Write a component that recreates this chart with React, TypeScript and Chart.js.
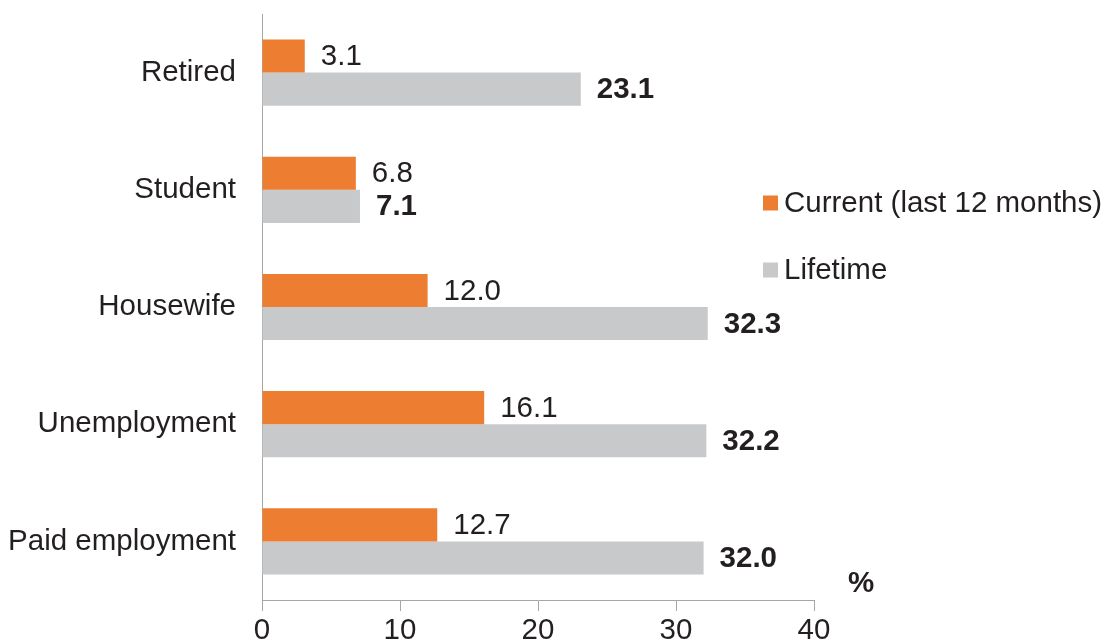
import React, { useEffect, useRef } from "react";
import { Chart, registerables } from "chart.js";

Chart.register(...registerables);

const categories = ["Retired", "Student", "Housewife", "Unemployment", "Paid employment"];
const currentValues = [3.1, 6.8, 12.0, 16.1, 12.7];
const lifetimeValues = [23.1, 7.1, 32.3, 32.2, 32.0];
const xTicks = [0, 10, 20, 30, 40];
const seriesNames = ["Current (last 12 months)", "Lifetime"];

const ORANGE = "#ed7d31";
const GREY = "#c8c9ca";
const TEXT = "#231f20";
const FONT = "'Liberation Sans', Arial, sans-serif";
const FS = 29.5;

const labelPlugin = {
  id: "customLabels",
  afterDatasetsDraw(chart: any) {
    const ctx = chart.ctx;
    ctx.save();
    ctx.fillStyle = TEXT;
    ctx.textBaseline = "middle";
    ctx.textAlign = "left";
    chart.data.datasets.forEach((ds: any, i: number) => {
      const meta = chart.getDatasetMeta(i);
      ctx.font = (i === 1 ? "bold " : "") + FS + "px " + FONT;
      meta.data.forEach((bar: any, j: number) => {
        ctx.fillText(Number(ds.data[j]).toFixed(1), bar.x + 16, bar.y + 1);
      });
    });
    const legendItems = [
      { color: ORANGE, y: 203 },
      { color: GREY, y: 270 },
    ];
    ctx.font = FS + "px " + FONT;
    legendItems.forEach((it, i) => {
      ctx.fillStyle = it.color;
      ctx.fillRect(763, it.y - 7.5, 15, 15);
      ctx.fillStyle = TEXT;
      ctx.fillText(seriesNames[i], 784, it.y + 1);
    });
    ctx.font = "bold " + FS + "px " + FONT;
    ctx.textAlign = "center";
    ctx.fillText("%", 861, 584);
    ctx.restore();
  },
};

export default function App() {
  const ref = useRef<HTMLCanvasElement>(null);
  useEffect(() => {
    if (!ref.current) return;
    const chart = new Chart(ref.current, {
      type: "bar",
      data: {
        labels: categories,
        datasets: [
          { label: seriesNames[0], data: currentValues, backgroundColor: ORANGE },
          { label: seriesNames[1], data: lifetimeValues, backgroundColor: GREY },
        ],
      },
      options: {
        indexAxis: "y",
        animation: false,
        responsive: false,
        devicePixelRatio: 1,
        layout: { padding: { left: 0, right: 293, top: 14, bottom: 0 } },
        datasets: { bar: { categoryPercentage: 0.565, barPercentage: 1 } },
        plugins: { legend: { display: false }, tooltip: { enabled: false } },
        scales: {
          x: {
            min: 0,
            max: 40,
            afterBuildTicks: (s: any) => {
              s.ticks = xTicks.map((v) => ({ value: v }));
            },
            afterFit: (s: any) => {
              s.height = 40;
              s.paddingLeft = 0;
              s.paddingRight = 0;
            },
            grid: { drawOnChartArea: false, drawTicks: true, tickLength: 11, color: "#a6a6a6", lineWidth: 1 },
            border: { display: true, color: "#a6a6a6", width: 1 },
            ticks: { color: TEXT, font: { family: FONT, size: FS }, padding: 2 },
          },
          y: {
            afterFit: (s: any) => {
              s.width = 262;
              s.paddingTop = 0;
              s.paddingBottom = 0;
            },
            grid: { display: false, drawTicks: false },
            border: { display: true, color: "#a6a6a6", width: 1 },
            ticks: { color: TEXT, font: { family: FONT, size: FS }, padding: 26 },
          },
        },
      },
      plugins: [labelPlugin],
    });
    return () => chart.destroy();
  }, []);
  return (
    <div style={{ position: "absolute", left: 0, top: 0, width: 1107, height: 640, background: "#fff" }}>
      <canvas ref={ref} width={1107} height={640} style={{ width: 1107, height: 640 }} />
    </div>
  );
}
